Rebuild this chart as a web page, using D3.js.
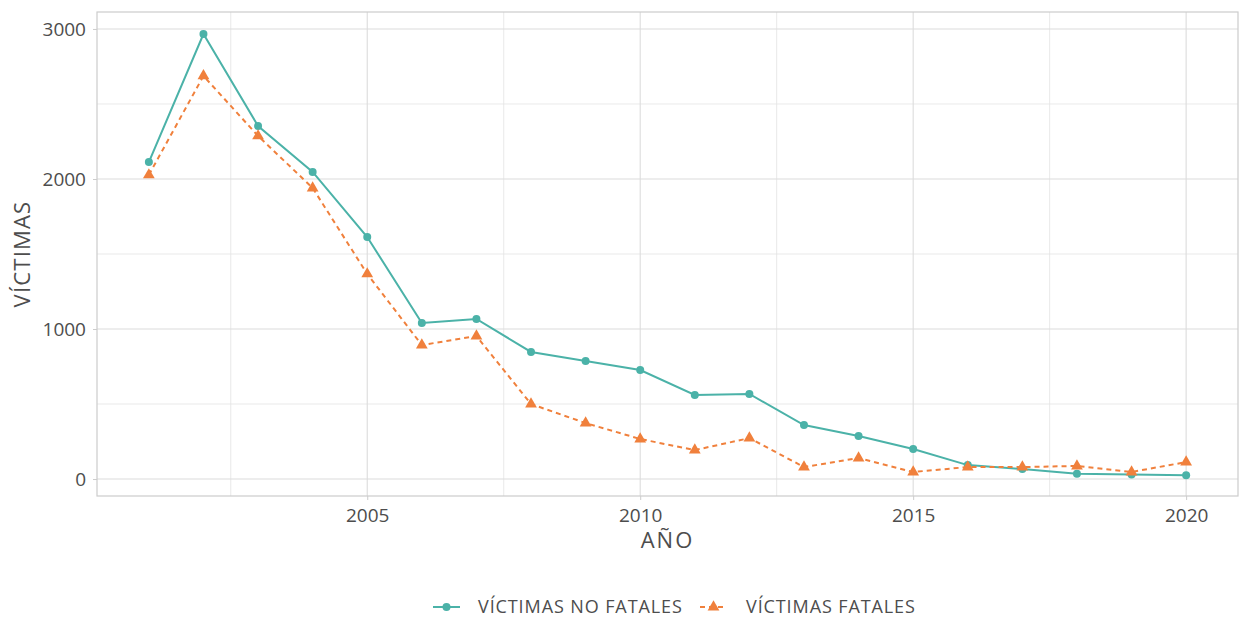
<!DOCTYPE html>
<html>
<head>
<meta charset="utf-8">
<script src="https://cdn.jsdelivr.net/npm/d3@7"></script>
<style>
  body { margin: 0; background: #fff; }
  svg text { font-family: "Open Sans", Lato, sans-serif; fill: #4d4d4d; }
</style>
</head>
<body>
<svg id="chart" width="1239" height="618"></svg>
<script>
const years = d3.range(2001, 2021);
const noFatales = [2113, 2966, 2353, 2047, 1613, 1040, 1067, 847, 787, 727,
                   560, 567, 360, 287, 200, 93, 67, 35, 30, 25];
const fatales = [2027, 2687, 2287, 1940, 1367, 893, 953, 500, 373, 267,
                 193, 273, 80, 140, 47, 80, 80, 87, 47, 113];
const xTicks = [2005, 2010, 2015, 2020];
const yTicks = [0, 1000, 2000, 3000];
const xMinor = [2002.5, 2007.5, 2012.5, 2017.5];
const yMinor = [500, 1500, 2500];
const seriesNames = ["VÍCTIMAS NO FATALES", "VÍCTIMAS FATALES"];

const svg = d3.select("#chart");
const margin = { top: 12, right: 1, bottom: 122, left: 97 };
const width = +svg.attr("width") - margin.left - margin.right;
const height = +svg.attr("height") - margin.top - margin.bottom;

const teal = "#4bb2a8";
const orange = "#f0803c";

// ggplot-style 5% expansion on x; y limits
const xExt = d3.extent(years);
const xPad = (xExt[1] - xExt[0]) * 0.05;

const x = d3.scaleLinear().domain([xExt[0] - xPad, xExt[1] + xPad]).range([0, width]);
const y = d3.scaleLinear().domain([-113, 3113]).range([height, 0]);

const g = svg.append("g").attr("transform", `translate(${margin.left},${margin.top})`);

// minor grid
g.selectAll(".xminor").data(xMinor).enter().append("line")
  .attr("x1", d => x(d)).attr("x2", d => x(d)).attr("y1", 0).attr("y2", height)
  .attr("stroke", "#e3e3e3").attr("stroke-width", 0.8);
g.selectAll(".yminor").data(yMinor).enter().append("line")
  .attr("y1", d => y(d)).attr("y2", d => y(d)).attr("x1", 0).attr("x2", width)
  .attr("stroke", "#e3e3e3").attr("stroke-width", 0.8);

// major grid
g.selectAll(".xmajor").data(xTicks).enter().append("line")
  .attr("x1", d => x(d)).attr("x2", d => x(d)).attr("y1", 0).attr("y2", height)
  .attr("stroke", "#dcdcdc").attr("stroke-width", 1.1);
g.selectAll(".ymajor").data(yTicks).enter().append("line")
  .attr("y1", d => y(d)).attr("y2", d => y(d)).attr("x1", 0).attr("x2", width)
  .attr("stroke", "#dcdcdc").attr("stroke-width", 1.1);

// axes
const xAxis = g.append("g").attr("transform", `translate(0,${height})`)
  .call(d3.axisBottom(x).tickValues(xTicks).tickFormat(d3.format("d")).tickSize(4).tickPadding(9));
const yAxis = g.append("g")
  .call(d3.axisLeft(y).tickValues(yTicks).tickFormat(d3.format("d")).tickSize(4).tickPadding(7));
[xAxis, yAxis].forEach(a => {
  a.select(".domain").remove();
  a.selectAll("line").attr("stroke", "#cccccc");
  a.selectAll("text").style("font-size", "19px").attr("fill", "#4d4d4d");
});

// panel border
g.append("rect").attr("width", width).attr("height", height)
  .attr("fill", "none").attr("stroke", "#cccccc").attr("stroke-width", 1.2);

// lines
const line = d3.line().x((d, i) => x(years[i])).y(d => y(d));
g.append("path").datum(noFatales).attr("d", line)
  .attr("fill", "none").attr("stroke", teal).attr("stroke-width", 2);
g.append("path").datum(fatales).attr("d", line)
  .attr("fill", "none").attr("stroke", orange).attr("stroke-width", 2)
  .attr("stroke-dasharray", "5,4");

g.selectAll(".dot").data(noFatales).enter().append("circle")
  .attr("cx", (d, i) => x(years[i])).attr("cy", d => y(d)).attr("r", 4)
  .attr("fill", teal);
const tri = d3.symbol().type(d3.symbolTriangle).size(60);
g.selectAll(".tri").data(fatales).enter().append("path")
  .attr("d", tri)
  .attr("transform", (d, i) => `translate(${x(years[i])},${y(d)})`)
  .attr("fill", orange);

// axis titles
svg.append("text").attr("x", margin.left + width / 2).attr("y", 548)
  .attr("text-anchor", "middle").style("font-size", "22px").style("letter-spacing", "2px")
  .text("AÑO");
svg.append("text")
  .attr("transform", `translate(30,${margin.top + height / 2}) rotate(-90)`)
  .attr("text-anchor", "middle").style("font-size", "22px").style("letter-spacing", "1.2px")
  .text("VÍCTIMAS");

// legend
const legend = svg.append("g").attr("transform", "translate(0,607)");
const items = [
  { name: seriesNames[0], color: teal, dash: null, x0: 433, tx: 478, shape: "circle" },
  { name: seriesNames[1], color: orange, dash: "5,4", x0: 700, tx: 746, shape: "tri" }
];
items.forEach(it => {
  legend.append("line").attr("x1", it.x0).attr("x2", it.x0 + 27).attr("y1", 0).attr("y2", 0)
    .attr("stroke", it.color).attr("stroke-width", 2).attr("stroke-dasharray", it.dash);
  if (it.shape === "circle") {
    legend.append("circle").attr("cx", it.x0 + 13.5).attr("cy", 0).attr("r", 4).attr("fill", it.color);
  } else {
    legend.append("path").attr("d", tri).attr("transform", `translate(${it.x0 + 13.5},0)`).attr("fill", it.color);
  }
  legend.append("text").attr("x", it.tx).attr("y", 6).style("font-size", "18px")
    .style("letter-spacing", "0.9px").text(it.name);
});
</script>
</body>
</html>
